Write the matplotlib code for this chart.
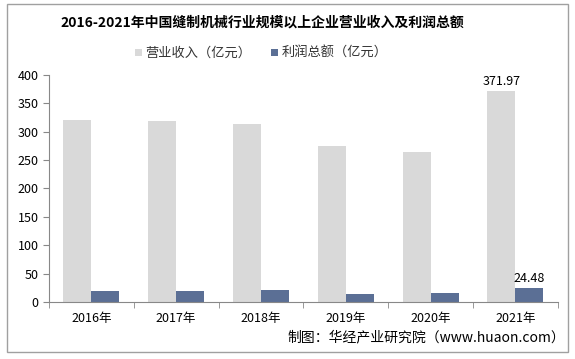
import matplotlib.pyplot as plt
import matplotlib.patches as mpatches
import numpy as np

plt.rcParams['font.family'] = ['Noto Sans CJK SC', 'DejaVu Sans']

years = ['2016年', '2017年', '2018年', '2019年', '2020年', '2021年']
revenue = [321.0, 319.6, 313.0, 275.0, 264.5, 371.97]
profit = [19.0, 19.0, 21.0, 14.0, 15.5, 24.48]

gray = '#d9d9d9'
blue = '#5b6f95'

fig = plt.figure(figsize=(5.75, 3.59), dpi=100)
fig.patches.append(mpatches.Rectangle((0.012, 0.02), 0.976, 0.97, transform=fig.transFigure,
                                      fill=False, edgecolor='#a0a0a0', linewidth=1.0))
ax = fig.add_axes([0.085, 0.159, 0.885, 0.632])

x = np.arange(len(years))
w = 0.33
ax.bar(x - w / 2, revenue, w, color=gray, label='营业收入（亿元）')
ax.bar(x + w / 2, profit, w, color=blue, label='利润总额（亿元）')

ax.text(x[-1] - w / 2, revenue[-1] + 6, '%.2f' % revenue[-1], ha='center', va='bottom', fontsize=9)
ax.text(x[-1] + w / 2, profit[-1] + 6, '%.2f' % profit[-1], ha='center', va='bottom', fontsize=9)

ax.set_xlim(-0.5, len(years) - 0.5)
ax.set_ylim(0, 400)
ax.set_yticks(range(0, 401, 50))
ax.set_xticks(x)
ax.set_xticklabels(years, fontsize=9)
ax.set_xticks(np.arange(-0.5, len(years), 1), minor=True)
ax.tick_params(axis='x', which='major', length=0, pad=7)
ax.tick_params(axis='x', which='minor', length=4, color='#888888')
ax.tick_params(axis='y', length=4, color='#888888', labelsize=9)
for s in ['top', 'right']:
    ax.spines[s].set_visible(False)
for s in ['left', 'bottom']:
    ax.spines[s].set_color('#888888')

fig.text(0.456, 0.938, '2016-2021年中国缝制机械行业规模以上企业营业收入及利润总额',
         ha='center', va='center', fontsize=10, fontweight='bold')
ax.legend(loc='upper center', bbox_to_anchor=(0.418, 1.175), ncol=2, frameon=False,
          fontsize=9.5, handlelength=0.5, handleheight=0.5, columnspacing=1.5, handletextpad=0.3,
          labelcolor='#333333')
fig.text(0.983, 0.06, '制图：华经产业研究院（www.huaon.com）', ha='right', va='center', fontsize=10)

fig.savefig('out.png', dpi=100)
